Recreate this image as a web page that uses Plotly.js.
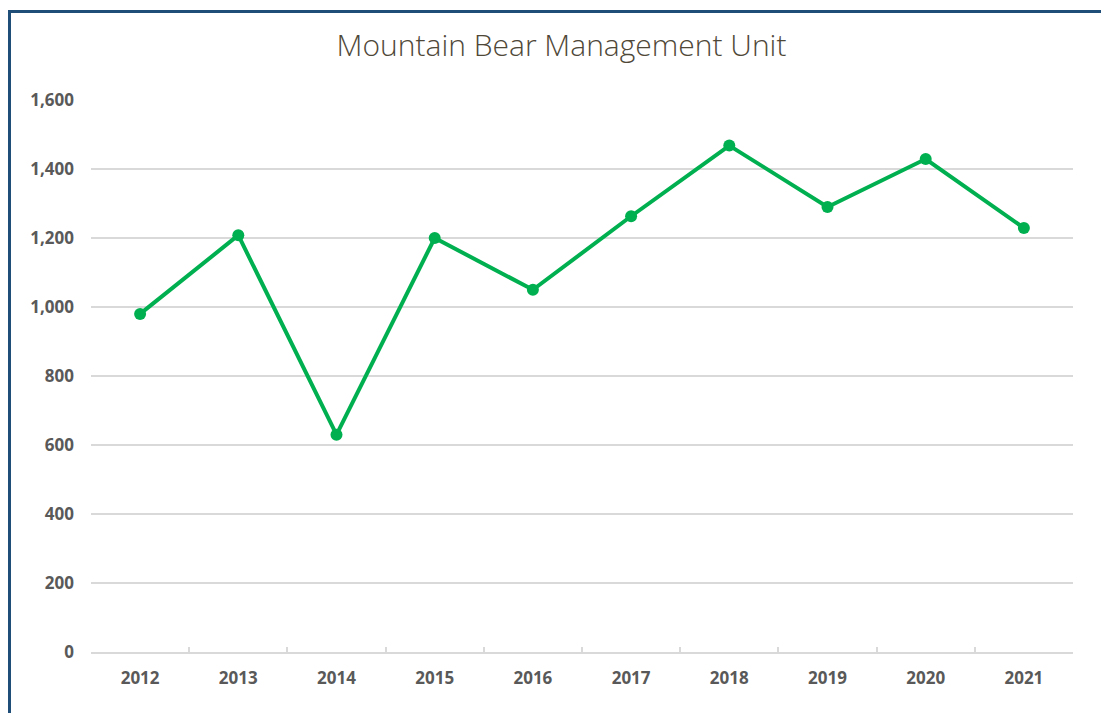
<!DOCTYPE html>
<html>
<head>
<meta charset="utf-8">
<script src="https://cdn.plot.ly/plotly-3.0.1.min.js"></script>
<style>
  html, body { margin: 0; padding: 0; background: #ffffff; }
  #chart { width: 1101px; height: 713px; position: absolute; left: 0; top: 0; }
  #frame { position: absolute; left: 8px; top: 10px; width: 1200px; height: 800px;
           border-left: 3px solid #1f4e79; border-top: 3px solid #1f4e79; pointer-events: none; }
</style>
</head>
<body>
<div id="chart"></div>
<div id="frame"></div>
<script>
const years = ["2012", "2013", "2014", "2015", "2016", "2017", "2018", "2019", "2020", "2021"];
const bears = [980, 1208, 630, 1200, 1050, 1263, 1468, 1290, 1429, 1229];
const yTicks = [0, 200, 400, 600, 800, 1000, 1200, 1400, 1600];
const yTickText = ["0", "200", "400", "600", "800", "1,000", "1,200", "1,400", "1,600"];
const chartTitle = "Mountain Bear Management Unit";

const trace = {
  type: "scatter",
  mode: "lines+markers",
  x: years,
  y: bears,
  line: { color: "#00b050", width: 4 },
  marker: { color: "#00b050", size: 12 },
  hoverinfo: "x+y"
};

const layout = {
  width: 1101,
  height: 713,
  paper_bgcolor: "#ffffff",
  plot_bgcolor: "#ffffff",
  margin: { l: 91, r: 28, t: 100, b: 61 },
  showlegend: false,
  title: {
    text: chartTitle,
    font: { family: "Open Sans, Noto Sans, sans-serif", size: 30, color: "#4f4838", weight: 300 },
    x: 0.51,
    xanchor: "center",
    y: 0.936,
    yanchor: "middle"
  },
  xaxis: {
    type: "category",
    range: [-0.5, 9.5],
    tickson: "boundaries",
    ticks: "inside",
    ticklen: 5,
    tickwidth: 2,
    tickcolor: "#d9d9d9",
    showline: true,
    linecolor: "#d9d9d9",
    linewidth: 2,
    showgrid: false,
    zeroline: false,
    ticklabelstandoff: 10,
    tickfont: { family: "Open Sans, Noto Sans, sans-serif", size: 17, color: "#595959", weight: 700 }
  },
  yaxis: {
    range: [0, 1600],
    tickmode: "array",
    tickvals: yTicks,
    ticktext: yTickText,
    showgrid: true,
    gridcolor: "#d9d9d9",
    gridwidth: 2,
    zeroline: false,
    showline: false,
    ticks: "",
    ticklabelstandoff: 16,
    tickfont: { family: "Open Sans, Noto Sans, sans-serif", size: 17, color: "#595959", weight: 700 }
  }
};

Plotly.newPlot("chart", [trace], layout, { displayModeBar: false, staticPlot: true });
</script>
</body>
</html>
